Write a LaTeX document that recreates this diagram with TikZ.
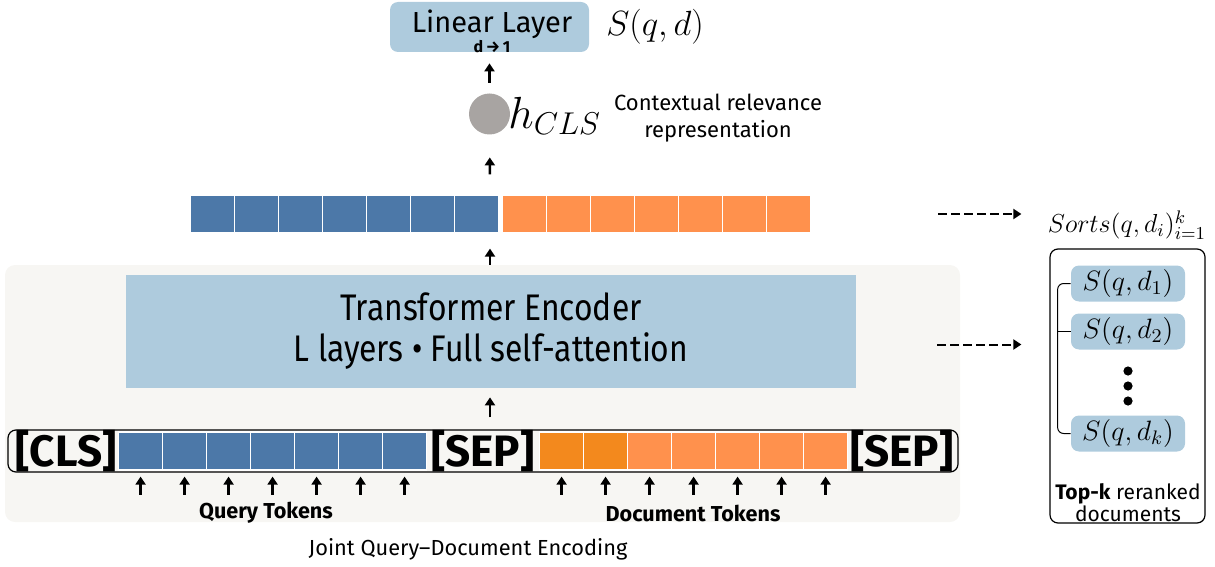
\RequirePackage{fix-cm}
\documentclass[tikz,border=0pt]{standalone}
\usepackage{fontspec}
\setmainfont{Fira Sans}
\newfontfamily\condfont[FakeStretch=0.86]{Fira Sans}
\usetikzlibrary{arrows.meta,positioning,fit}

\definecolor{qblue}{HTML}{4C78A8}
\definecolor{dorange}{HTML}{FF914D}
\definecolor{dorangedark}{HTML}{F3891D}
\definecolor{boxblue}{HTML}{AECBDD}
\definecolor{panelgray}{HTML}{F7F6F3}
\definecolor{vecgray}{HTML}{A8A4A2}

\tikzset{
  cell/.style={draw=white, line width=0.6pt, anchor=west, minimum width=22pt, minimum height=19pt, inner sep=0pt},
  tokword/.style={font=\fontsize{22}{22}\selectfont\bfseries, inner sep=0pt},
  uparrow/.style={-{Triangle[width=5pt,length=4pt]}, line width=1.2pt},
  dashto/.style={-{Triangle[width=5pt,length=4pt]}, line width=1pt, dash pattern=on 4.5pt off 2pt},
  lbox/.style={fill=boxblue, rounded corners=4pt, inner sep=0pt},
  score/.style={lbox, minimum width=57pt, minimum height=18pt, font=\fontsize{14}{14}\selectfont},
  captext/.style={font=\fontsize{11}{13.5}\selectfont, align=center, inner sep=0pt}
}

\begin{document}
\begin{tikzpicture}[x=0.5pt, y=-0.5pt]
  \useasboundingbox (0,0) rectangle (1215,567);
  \coordinate (axis) at (490,0);

  % joint encoding panel
  \node[fill=panelgray, rounded corners=5pt, minimum width=477.5pt, minimum height=128.5pt, inner sep=0pt] (panel) at (482.5,393.5) {};
  \node[fill=boxblue, minimum width=365pt, minimum height=56.5pt, inner sep=0pt, align=center,
        font=\condfont\fontsize{18.5}{20.5}\selectfont] (enc) at (491,331.5)
        {Transformer Encoder\\L layers • Full self-attention};

  % input sequence
  \node[draw, line width=0.6pt, rounded corners=4pt, inner sep=0pt, fit={(8,430) (958,472)}] (row) {};
  \node[tokword, anchor=east] (cls) at (117,451) {[CLS]};
  \foreach \i in {1,...,7}
    \node[cell, fill=qblue] (q\i) at ({118+44*(\i-1)},451) {};
  \node[tokword] (sepa) at (483,451) {[SEP]};
  \foreach \i/\c in {1/dorangedark,2/dorangedark,3/dorange,4/dorange,5/dorange,6/dorange,7/dorange}
    \node[cell, fill=\c] (d\i) at ({539+44*(\i-1)},451) {};
  \node[tokword, anchor=west] (sepb) at (850,451) {[SEP]};

  \foreach \i in {1,...,7} {
    \path (q\i.south) ++(0,24) coordinate (qa\i);
    \draw[uparrow, shorten >=3pt] (qa\i) -- (q\i);
    \path (d\i.south) ++(0,24) coordinate (da\i);
    \draw[uparrow, shorten >=3pt] (da\i) -- (d\i);
  }
  \node[font=\fontsize{10.8}{12}\selectfont\bfseries] (qlab) at (266,513) {Query Tokens};
  \node[font=\fontsize{10.8}{12}\selectfont\bfseries] (dlab) at (693,513) {Document Tokens};
  \node[font=\fontsize{10.9}{12}\selectfont] (joint) at (468,549) {Joint Query–Document Encoding};

  % contextual output
  \foreach \i in {1,...,7} {
    \node[cell, fill=qblue] (h\i) at ({190+44*(\i-1)},214) {};
    \node[cell, fill=dorange] (g\i) at ({502+44*(\i-1)},214) {};
  }
  \node[circle, fill=vecgray, minimum size=20.5pt, inner sep=0pt] (hvec) at (489.5,114) {};
  \node[anchor=west, inner sep=0pt, font=\fontsize{22.5}{22.5}\selectfont] (hlab) at (508,116) {$h_{CLS}$};
  \node[captext] (ctx) at (718,118) {Contextual relevance\\representation};
  \node[lbox, minimum width=99.5pt, minimum height=25pt] (lin) at (489.5,27) {};
  \node[align=center, inner sep=0pt] (linlab) at (492,31)
    {\fontsize{14.5}{14.5}\selectfont Linear Layer\\[-2pt]\fontsize{8}{8}\selectfont\bfseries d\,→\,1};
  \node[font=\fontsize{17.5}{17.5}\selectfont] (score) at (655,27) {$S(q,d)$};

  \draw[uparrow, shorten <=6pt, shorten >=4.5pt] (row.north -| axis) -- (enc.south -| axis);
  \draw[uparrow, shorten >=7.5pt] (panel.north -| axis) -- (h7.south -| axis);
  \draw[uparrow, shorten <=10pt, shorten >=11.25pt] (h7.north -| axis) -- (hvec);
  \draw[uparrow, shorten <=5.25pt, shorten >=5.5pt] (hvec) -- (lin);

  % reranked list
  \node[draw, line width=0.6pt, rounded corners=4pt, minimum width=77.5pt, minimum height=137pt, inner sep=0pt] (rbox) at (1127.5,386) {};
  \node[font=\fontsize{13}{13}\selectfont, inner sep=0pt] (sorts) at (1127,225) {$Sorts(q,d_i)_{i=1}^{k}$};
  \node[score] (s1) at (1128,283.5) {$S(q,d_1)$};
  \node[score] (s2) at (1128,331.5) {$S(q,d_2)$};
  \node[score] (sk) at (1128,433.5) {$S(q,d_k)$};
  \foreach \y in {371,386,401}
    \fill (1128,\y) circle (2.3pt);
  \draw[line width=0.5pt, rounded corners=3pt] (s1.west) -- ++(-6.5pt,0) |- (sk.west);
  \draw[line width=0.5pt] (s2.west) -- ++(-6.5pt,0);
  \node[captext, font=\fontsize{10.5}{11}\selectfont] (topk) at (1128,503) {\textbf{Top-k} reranked\\documents};

  \draw[dashto, shorten <=63.5pt, shorten >=14pt] (g7.east) -- (g7.east -| rbox.west);
  \draw[dashto, shorten <=40.5pt, shorten >=14pt] ([yshift=-6.5pt]enc.east) -- ([yshift=-6.5pt]enc.east -| rbox.west);
\end{tikzpicture}
\end{document}
